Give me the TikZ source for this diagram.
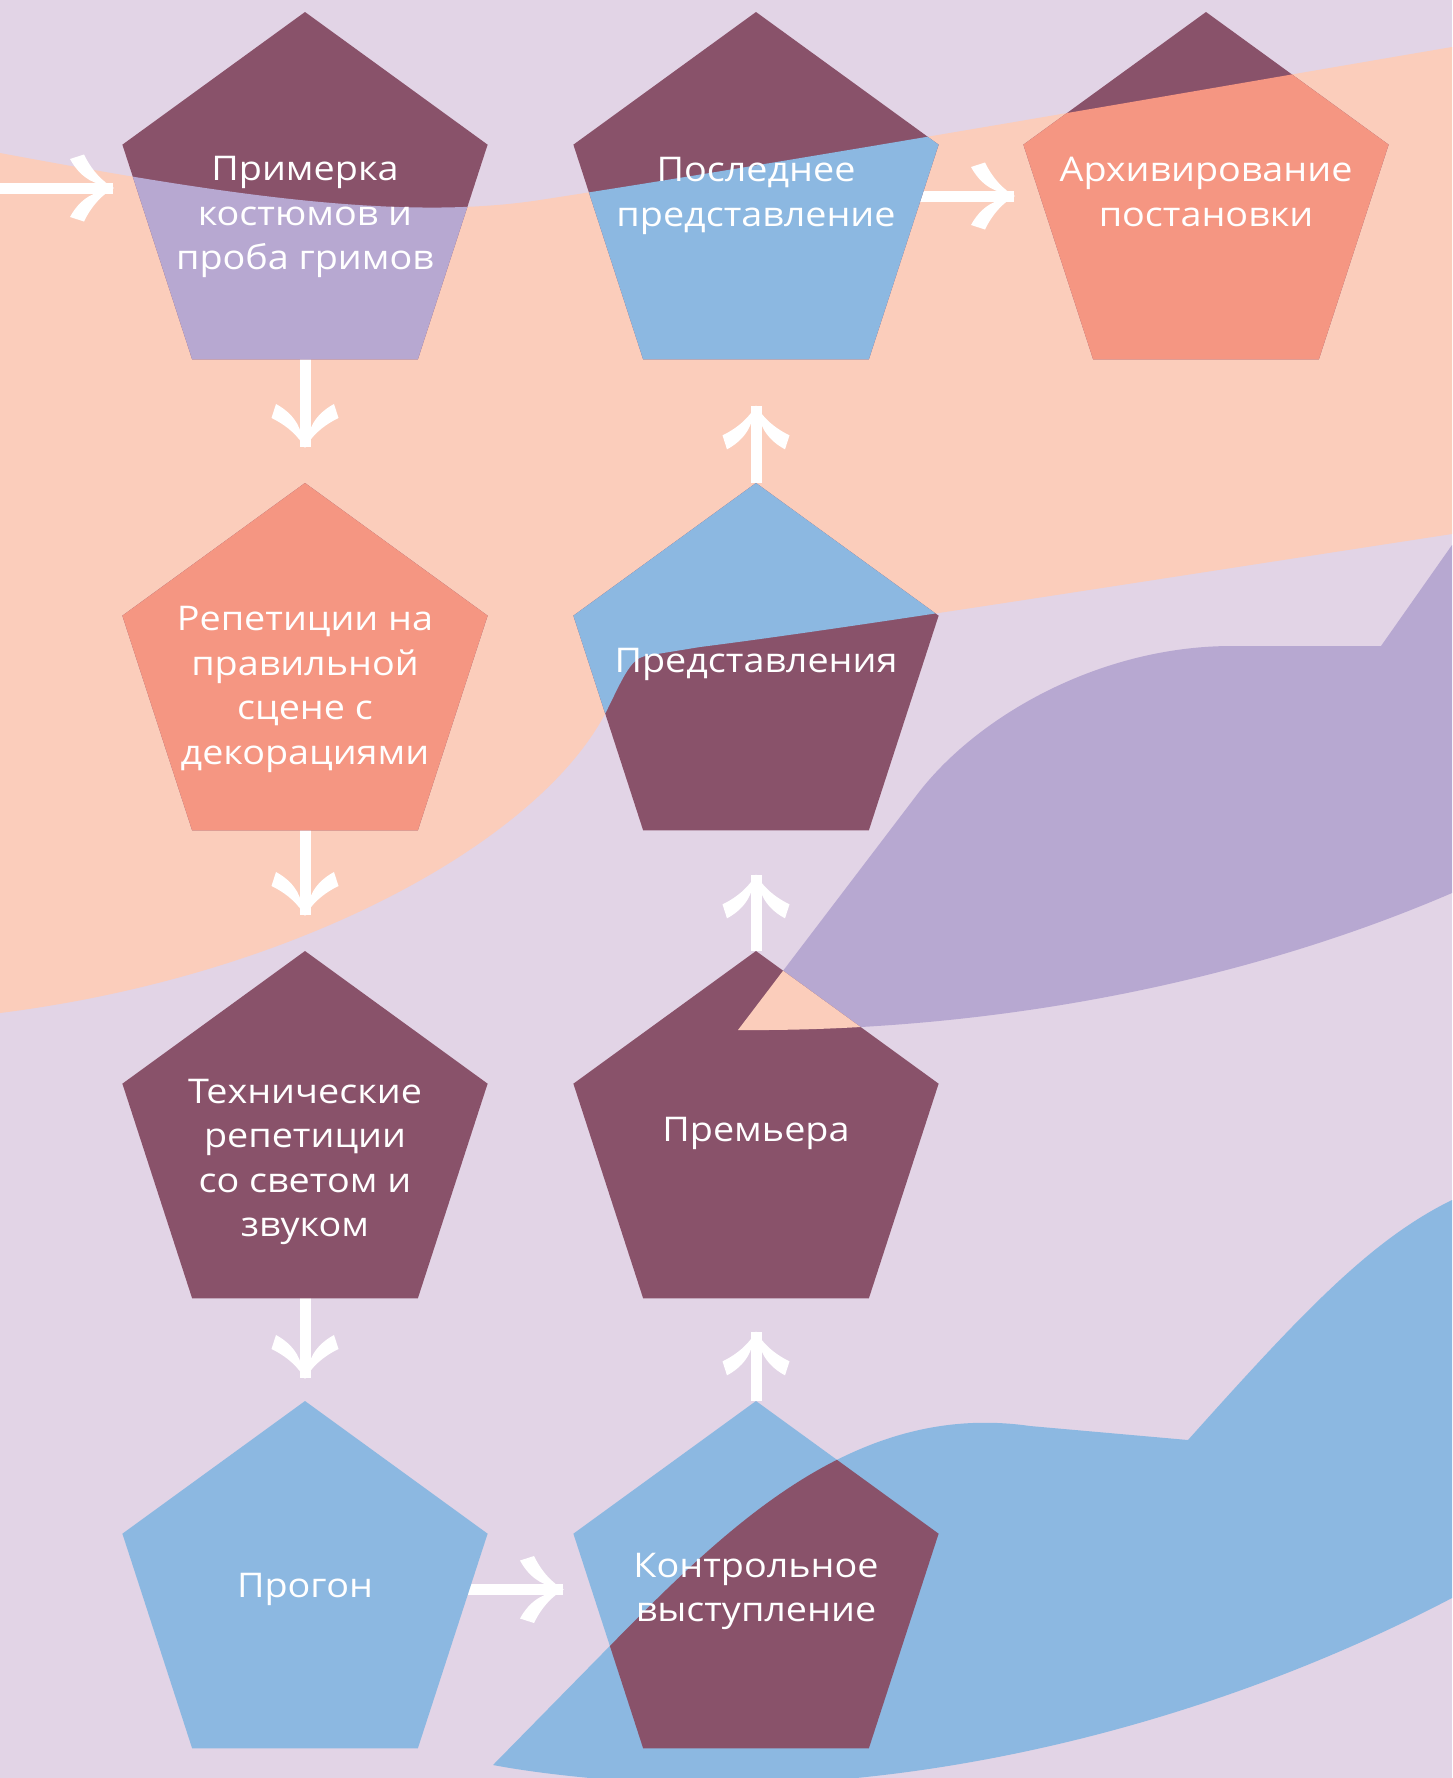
\documentclass[tikz,border=0pt]{standalone}
\usepackage{fontspec}
\setmainfont[FakeStretch=1.11]{Open Sans}
\usetikzlibrary{shapes.geometric}
\definecolor{cLav}{HTML}{E2D4E6}
\definecolor{cPeach}{HTML}{FBCDBB}
\definecolor{cMaroon}{HTML}{89526A}
\definecolor{cLilac}{HTML}{B7A8D1}
\definecolor{cBlue}{HTML}{8CB8E1}
\definecolor{cSalmon}{HTML}{F59682}
\def\peachpath{(0,153) .. controls (220,194) and (400,221.6) .. (540,200) .. controls (800,160) and (1200,90) .. (1452,47) -- (1452,534) .. controls (1100,588) and (850,628) .. (700,647) -- (645,656) .. controls (630,659) and (622,680) .. (606,712) .. controls (540,840) and (300,975) .. (0,1013) -- cycle}
\def\lilacpath{(1452,545) -- (1381,646) -- (1232,646) .. controls (1100,646) and (976,716) .. (916,796) -- (738,1030) .. controls (1000,1032) and (1250,980) .. (1452,893) -- cycle}
\def\bluepath{(493,1765) -- (600,1656) .. controls (720,1534) and (850,1400) .. (1030,1426) -- (1188,1440) .. controls (1300,1315) and (1370,1240) .. (1452,1200) -- (1452,1598) .. controls (1200,1730) and (900,1800) .. (640,1782) .. controls (580,1778) and (530,1772) .. (493,1765) -- cycle}
\newcommand\pentof[1]{(#1.corner 1) -- (#1.corner 2) -- (#1.corner 3) -- (#1.corner 4) -- (#1.corner 5) -- cycle}
\newcommand\pentfill[2]{\fill[#2] \pentof{#1};}
\newcommand\pentsplit[4]{\fill[#2] \pentof{#1};
  \begin{scope}\clip \pentof{#1}; \fill[#3] #4; \end{scope}}
\newcommand\pentlines[1]{\begin{tabular}[t]{@{}c@{}}#1\end{tabular}}
\begin{document}
\begin{tikzpicture}[x=1pt,y=-1pt,
  pent/.style={regular polygon, regular polygon sides=5, minimum size=384pt, inner sep=0pt, outer sep=0pt},
  conn/.style={draw=white, line width=11pt},
  txt/.style={text=white, anchor=base, inner sep=0pt, font=\fontsize{34}{44.5}\selectfont},
  barbs/.pic={
    \fill[white] (1,0) .. controls (-10,-6) and (-21,-17) .. (-29,-33.5) -- (-43,-29) .. controls (-37,-18) and (-28,-8) .. (-14,-4) -- cycle;
    \fill[white] (1,0) .. controls (-10,6) and (-21,17) .. (-29,33.5) -- (-43,29) .. controls (-37,18) and (-28,8) .. (-14,4) -- cycle;
  }]
\useasboundingbox (0,0) rectangle (1452,1778);
\clip (0,0) rectangle (1452,1778);
% background shapes
\fill[cLav] (0,0) rectangle (1452,1778);
\fill[cPeach] \peachpath;
\fill[cLilac] \lilacpath;
\fill[cBlue] \bluepath;
% pentagon nodes
\node[pent] (p1) at (305,204) {};
\node[pent] (p2) at (756,204) {};
\node[pent] (p3) at (1206,204) {};
\node[pent] (p4) at (305,675) {};
\node[pent] (p5) at (756,675) {};
\node[pent] (p6) at (305,1143) {};
\node[pent] (p7) at (756,1143) {};
\node[pent] (p8) at (305,1593) {};
\node[pent] (p9) at (756,1593) {};
\coordinate (entry) at (0,188);
% connectors
\draw[conn] (entry) -- ([xshift=-192pt,yshift=16pt]p1.center);
\pic at ([xshift=-192pt,yshift=16pt]p1.center) {barbs};
\draw[conn, shorten >=36pt] (p1.south) -- (p4.north);
\pic[rotate=-90] at ([yshift=36pt]p4.north) {barbs};
\draw[conn, shorten >=36pt] (p4.south) -- (p6.north);
\pic[rotate=-90] at ([yshift=36pt]p6.north) {barbs};
\draw[conn, shorten >=23pt] (p6.south) -- (p8.north);
\pic[rotate=-90] at ([yshift=23pt]p8.north) {barbs};
\draw[conn, shorten >=193pt] ([yshift=3.5pt]p8.center) -- ([yshift=3.5pt]p9.center);
\pic at ([xshift=-193pt,yshift=3.5pt]p9.center) {barbs};
\draw[conn, shorten >=34pt] (p9.north) -- (p7.south);
\pic[rotate=90] at ([yshift=-34pt]p7.south) {barbs};
\draw[conn, shorten >=45pt] (p7.north) -- (p5.south);
\pic[rotate=90] at ([yshift=-45pt]p5.south) {barbs};
\draw[conn, shorten >=47pt] (p5.north) -- (p2.south);
\pic[rotate=90] at ([yshift=-47pt]p2.south) {barbs};
\draw[conn, shorten >=192pt] ([yshift=8pt]p2.center) -- ([yshift=8pt]p3.center);
\pic at ([xshift=-192pt,yshift=8pt]p3.center) {barbs};
% pentagon fills
\pentsplit{p1}{cMaroon}{cLilac}{\peachpath}
\pentsplit{p2}{cMaroon}{cBlue}{\peachpath}
\pentsplit{p3}{cMaroon}{cSalmon}{\peachpath}
\pentsplit{p4}{cMaroon}{cSalmon}{\peachpath}
\pentsplit{p5}{cMaroon}{cBlue}{\peachpath}
\pentfill{p6}{cMaroon}
\pentsplit{p7}{cMaroon}{cPeach}{\lilacpath}
\pentfill{p8}{cBlue}
\pentsplit{p9}{cBlue}{cMaroon}{\bluepath}
% texts
\node[txt] (t1) at (305,180.6) {\pentlines{Примерка\\костюмов и\\проба гримов}};
\node[txt] (t2) at (756,181.7) {\pentlines{Последнее\\представление}};
\node[txt] (t3) at (1206,181.7) {\pentlines{Архивирование\\постановки}};
\node[txt] (t4) at (305,630.6) {\pentlines{Репетиции на\\правильной\\сцене с\\декорациями}};
\node[txt] (t5) at (756,672.5) {\pentlines{Представления}};
\node[txt] (t6) at (305,1103.2) {\pentlines{Технические\\репетиции\\со светом и\\звуком}};
\node[txt] (t7) at (756,1141.8) {\pentlines{Премьера}};
\node[txt] (t8) at (305,1597.4) {\pentlines{Прогон}};
\node[txt] (t9) at (756,1577) {\pentlines{Контрольное\\выступление}};
\end{tikzpicture}
\end{document}
